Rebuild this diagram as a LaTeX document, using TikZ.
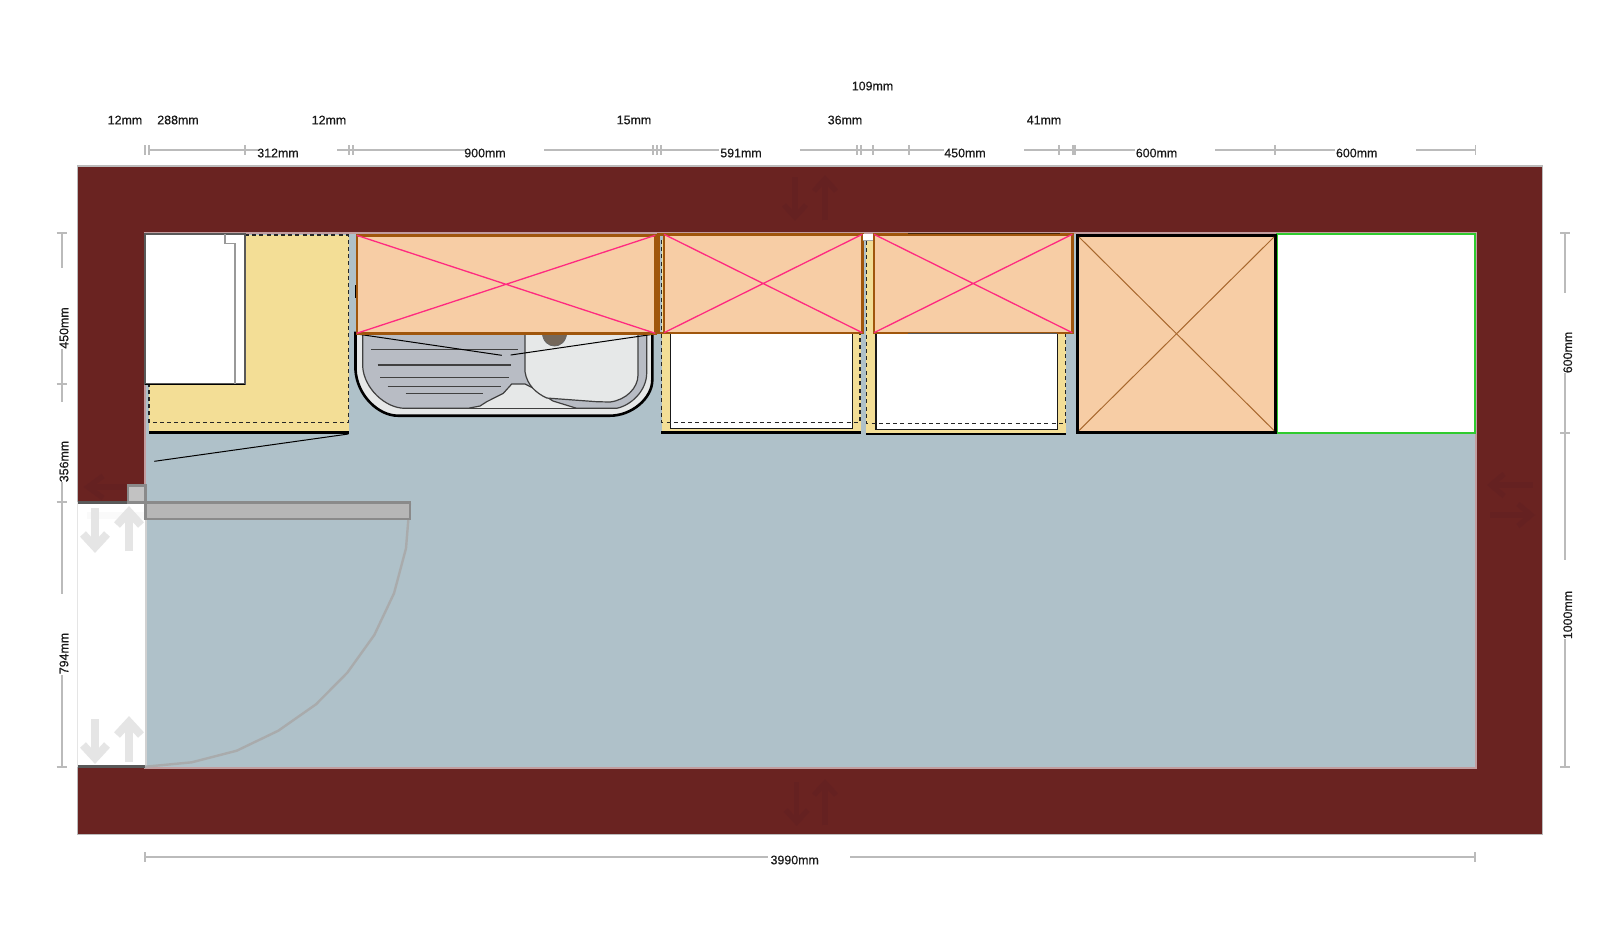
\documentclass[tikz,border=0pt]{standalone}
\usepackage{fontspec}
\setmainfont[FakeBold=0.35]{Liberation Sans}
\definecolor{wallc}{HTML}{6A2321}
\definecolor{wallarrow}{HTML}{652121}
\definecolor{floorc}{HTML}{AFC1C9}
\definecolor{innerb}{HTML}{C29C9E}
\definecolor{dimc}{HTML}{BBBBBB}
\definecolor{orangec}{HTML}{F7CDA5}
\definecolor{brownc}{HTML}{A0560C}
\definecolor{pinkc}{HTML}{FF2A80}
\definecolor{yellowc}{HTML}{F3DE96}
\definecolor{doorc}{HTML}{B6B6B6}
\definecolor{doorb}{HTML}{8A8A8A}
\definecolor{arcc}{HTML}{A9ABAC}
\definecolor{sinkl}{HTML}{E6E8E8}
\definecolor{sinkg}{HTML}{B8BCC4}
\definecolor{greenc}{HTML}{2FCB2F}
\definecolor{crossb}{HTML}{A8682E}
\tikzset{
  dimline/.style={draw=dimc,line width=1pt},
  dimlabel/.style={font=\fontsize{6.2}{7}\selectfont,text=black!90,inner sep=0pt},
  topc/.style={draw=brownc,fill=orangec,line width=1.2pt},
  pinkx/.style={draw=pinkc,line width=0.65pt},
  basec/.style={fill=yellowc},
  dashb/.style={draw=black!85,line width=0.7pt,dash pattern=on 2pt off 1.6pt},
  thinb/.style={draw=black,line width=0.5pt},
  drain/.style={draw=black!75,line width=0.6pt},
  arrowlight/.style={draw=black!10,line width=4pt,miter limit=4},
  arrowwall/.style={draw=wallarrow,line width=2.6pt,miter limit=4}
}
\newcommand{\vpair}[6]{%
  \draw[\curarrow] (#1,#3) -- (#1,#4-\tipo);
  \draw[\curarrow] (#1-\hw,#4-\hh) -- (#1,#4-\tipo) -- (#1+\hw,#4-\hh);
  \draw[\curarrow] (#2,#6) -- (#2,#5+\tipo);
  \draw[\curarrow] (#2-\hw,#5+\hh) -- (#2,#5+\tipo) -- (#2+\hw,#5+\hh);
}
\begin{document}
\begin{tikzpicture}[x=0.5pt,y=-0.5pt]
\useasboundingbox (0,0) rectangle (1620,934);
\fill[white] (0,0) rectangle (1620,934);
% wall
\fill[wallc,draw=dimc,line width=0.6pt] (77.5,166) rectangle (1542.7,834.3);
\fill[floorc,draw=innerb,line width=1pt] (144.5,233) rectangle (1476,767.5);
% faint arrows in the walls
\def\curarrow{arrowwall}\def\hw{11}\def\hh{17}\def\tipo{5}
\vpair{795}{825}{177}{222}{174}{220}{}
\vpair{796.7}{825}{782}{827}{778}{825}{}
\draw[arrowwall] (1490,485) -- (1533,485);
\draw[arrowwall] (1504,474) -- (1491,485) -- (1504,496);
\draw[arrowwall] (1490,515) -- (1531,515);
\draw[arrowwall] (1518,504) -- (1531,515) -- (1518,526);
\draw[arrowwall] (88,487) -- (126,487);
\draw[arrowwall] (103,476) -- (88,487) -- (103,498);
% door opening
\fill[white] (77,502) rectangle (146,767);
\draw[black!10,line width=0.5pt] (77,502) -- (77,767);
\draw[black!18,line width=1pt] (146,519) -- (146,767);
\fill[black!2] (87,512) rectangle (146,519);
\def\curarrow{arrowlight}\def\hw{12}\def\hh{20}\def\tipo{7}
\vpair{95}{129}{508}{554}{505}{551}{}
\vpair{95}{129}{719}{765}{715}{762}{}
\fill[black!65] (78.3,500.8) rectangle (127.3,503.5);
\fill[black!65] (78.3,765) rectangle (145,768);
% door
\draw[draw=arcc,line width=1.2pt] (145,766.7) -- (191.7,762.3) -- (236.7,750.7) -- (278.3,730.7) -- (316,704.3) -- (347.3,672.7) -- (374.3,635) -- (394,593.3) -- (406,548.3) -- (408.3,520) -- (410,503);
\filldraw[fill=doorc,draw=doorb,line width=1.3pt] (145.5,502.7) rectangle (410,519);
\filldraw[fill=black!24,draw=doorb,line width=1.3pt] (128,485.5) rectangle (145.5,502.3);
% corner unit
\fill[basec] (245,234.5) rectangle (349,432);
\fill[basec] (149,384) rectangle (245,432);
\draw[dashb] (245,235) -- (348.3,235) -- (348.3,422.3) -- (149,422.3) -- (149,384);
\draw[draw=black,line width=1.1pt] (149,432.5) -- (349,432.5);
\filldraw[fill=white,draw=black!65,line width=0.75pt] (145,234) rectangle (245,384);
\draw[draw=black!40,line width=0.6pt] (225,234) -- (225,243.3) -- (235,243.3) -- (235,384);
\draw[draw=black,line width=0.5pt] (145,384) -- (245,384);
\draw[thinb] (154.3,461.3) -- (348.3,434);
% sink
\fill[black] (354.5,285) rectangle (356.7,298);
\filldraw[fill=sinkl,draw=black,line width=1.3pt] (355.5,333) -- (355.5,370) .. controls (357,395) and (378,415.7) .. (398,415.7) -- (610,415.7) .. controls (632,415.7) and (652.3,398) .. (652.3,380) -- (652.3,333) -- cycle;
\filldraw[fill=sinkg,draw=black!75,line width=0.6pt] (362.7,334) -- (362.7,366.7) .. controls (364,388) and (385,408.3) .. (405,408.3) -- (468,408.3) -- (480,406) -- (486.7,401.7) -- (503.3,393.3) -- (511.7,384) -- (525,384) -- (533,388) -- (553,401) -- (576.7,408.3) -- (616.7,408.3) .. controls (632,405) and (646.7,390) .. (646.7,373) -- (646.7,334) -- cycle;
\filldraw[fill=sinkl,draw=black!75,line width=0.6pt] (525,334) -- (525,371.7) .. controls (527,385) and (536,393) .. (546.7,398) -- (596.7,401.7) -- (610,402) .. controls (626,400) and (638,388) .. (638,375) -- (638,334) -- cycle;
\draw[drain] (405,408.3) -- (576.7,408.3);
\draw[drain] (371,349.3) -- (517.7,349.3);
\draw[drain] (377.7,365) -- (511,365);
\draw[drain] (380,377.7) -- (508.7,377.7);
\draw[drain] (387.7,386.7) -- (501,386.7);
\draw[drain] (405.7,393.3) -- (483.3,393.3);
\filldraw[fill=black!48!brown!40!gray,draw=black!60,line width=0.4pt] (542.3,333) .. controls (543,342) and (549,346) .. (554.5,346) .. controls (560,346) and (566,342) .. (566.7,333) -- cycle;
\draw[thinb] (357,334) -- (501.7,355.3);
\draw[thinb] (510.7,355) -- (655,334);
% top unit 1
\filldraw[topc] (356.7,235.3) rectangle (655.3,333.3);
\draw[pinkx] (356.7,235.3) -- (655.3,333.3) (356.7,333.3) -- (655.3,235.3);
% base unit 2
\fill[basec] (661.7,240) rectangle (860.7,432);
\filldraw[fill=white,draw=black!90,line width=0.75pt] (670.7,330) rectangle (852.7,428.3);
\draw[dashb] (661.7,240) -- (661.7,422.3) -- (860,422.3) -- (860,240);
\draw[draw=black,line width=1.1pt] (661,432.5) -- (861,432.5);
% top unit 2
\draw[draw=brownc,line width=1.2pt] (658.3,234.5) rectangle (664,332.7);
\filldraw[topc] (664,234.3) rectangle (862.3,332.7);
\draw[pinkx] (664,234.3) -- (862.3,332.7) (664,332.7) -- (862.3,234.3);
% base unit 3
\fill[white] (862.7,234) rectangle (873.3,240);
\draw[draw=black!35,line width=0.5pt] (862.7,240.5) -- (873.3,240.5);
\fill[basec] (866,241) rectangle (1066,433);
\filldraw[fill=white,draw=black!90,line width=0.75pt] (876,330) rectangle (1057.7,429.3);
\draw[dashb] (866.7,241) -- (866.7,423.3) -- (1065.7,423.3) -- (1065.7,333);
\draw[draw=black,line width=1.1pt] (866,433.7) -- (1066,433.7);
% top unit 3
\filldraw[topc] (874,234.3) rectangle (1072.3,332.7);
\draw[pinkx] (874,234.3) -- (1072.3,332.7) (874,332.7) -- (1072.3,234.3);
\draw[draw=black!55!brownc,line width=0.5pt] (908,233.6) -- (1060,233.6);
\draw[draw=black!65,line width=0.5pt] (908,333.8) -- (1057,333.8);
% green cabinet
\filldraw[fill=white,draw=greenc,line width=0.95pt] (1277,234) rectangle (1475,433.3);
% black cabinet
\filldraw[fill=orangec,draw=black,line width=1.5pt] (1077,235.3) rectangle (1275.5,432);
\draw[draw=crossb,line width=0.5pt] (1079,237) -- (1274,430.5) (1079,430.5) -- (1274,237);
% top dimensions
\draw[dimline] (149,150) -- (258,150) (337,150) -- (466,150) (544,150) -- (719,150) (800,150) -- (944,150) (1024,150) -- (1135,150) (1215,150) -- (1335,150) (1416,150) -- (1476,150);
\foreach \tx in {145,149,245,349,352.7,652.7,657.3,660.7,857.3,861,872.7,909,1059,1275,1475.5}
  \draw[draw=dimc,line width=0.9pt] (\tx,145) -- (\tx,155);
\draw[draw=dimc,line width=1.8pt] (1074,145) -- (1074,155);
\node[dimlabel] (t1) at (125,120) {12mm};
\node[dimlabel] (t2) at (178,120) {288mm};
\node[dimlabel] (t3) at (329,120) {12mm};
\node[dimlabel] (t4) at (634,120) {15mm};
\node[dimlabel] (t5) at (845,120) {36mm};
\node[dimlabel] (t6) at (1044,120) {41mm};
\node[dimlabel] (t7) at (872.5,86) {109mm};
\node[dimlabel] (b1) at (278,153) {312mm};
\node[dimlabel] (b2) at (485,153) {900mm};
\node[dimlabel] (b3) at (741,153) {591mm};
\node[dimlabel] (b4) at (965,153) {450mm};
\node[dimlabel] (b5) at (1156.5,153) {600mm};
\node[dimlabel] (b6) at (1356.7,153) {600mm};
% left dimensions
\draw[dimline] (61.7,233.3) -- (61.7,268.3) (61.7,349) -- (61.7,402.3) (61.7,482) -- (61.7,594.3) (61.7,675) -- (61.7,766.7);
\foreach \ty in {233.3,384,501.7,766.7}
  \draw[draw=dimc,line width=0.9pt] (56.7,\ty) -- (66.7,\ty);
\node[dimlabel,rotate=90] (l1) at (64,328) {450mm};
\node[dimlabel,rotate=90] (l2) at (64,461.5) {356mm};
\node[dimlabel,rotate=90] (l3) at (64,653.5) {794mm};
% right dimensions
\draw[dimline] (1565,233.3) -- (1565,293) (1565,373.3) -- (1565,560) (1565,639) -- (1565,766.7);
\foreach \ty in {233.3,433.3,766.7}
  \draw[draw=dimc,line width=0.9pt] (1560,\ty) -- (1570,\ty);
\node[dimlabel,rotate=90] (r1) at (1567.7,352.5) {600mm};
\node[dimlabel,rotate=90] (r2) at (1567.7,615) {1000mm};
% bottom dimension
\draw[dimline] (145,857) -- (768,857) (850,857) -- (1475,857);
\draw[draw=dimc,line width=0.9pt] (145,852) -- (145,862);
\draw[draw=dimc,line width=0.9pt] (1475,852) -- (1475,862);
\node[dimlabel] (b7) at (794.7,860) {3990mm};
\end{tikzpicture}
\end{document}
